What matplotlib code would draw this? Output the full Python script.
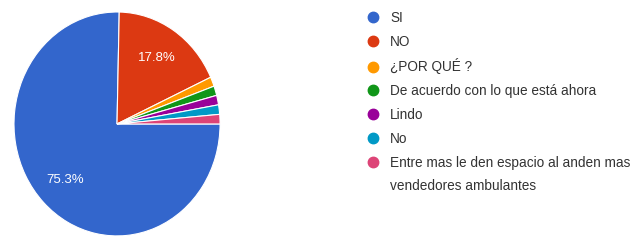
import matplotlib
matplotlib.use("Agg")
import matplotlib.pyplot as plt
from matplotlib.lines import Line2D

plt.rcParams['font.family'] = ['Liberation Sans', 'DejaVu Sans']

# responses to the survey question
labels = ['SI', 'NO', '¿POR QUÉ ?', 'De acuerdo con lo que está ahora', 'Lindo', 'No',
          'Entre mas le den espacio al anden mas\nvendedores ambulantes']
counts = [55, 13, 1, 1, 1, 1, 1]
colors = ['#3366cc', '#dc3912', '#ff9900', '#109618', '#990099', '#0099c6', '#dd4477']

fig = plt.figure(figsize=(6.36, 2.40), dpi=100)
ax = fig.add_axes([0.022, 0.017, 0.324, 0.933])

def pct(p):
    # only the big slices get a label
    return '%.1f%%' % p if p > 5 else ''

wedges, texts, autotexts = ax.pie(counts, colors=colors, startangle=0, counterclock=False,
                                  autopct=pct, pctdistance=0.71,
                                  wedgeprops=dict(edgecolor='white', linewidth=0.8),
                                  textprops=dict(color='white', fontsize=9.5))
ax.set_aspect('auto')
ax.set_xlim(-1, 1)
ax.set_ylim(-1, 1)

# the wrapped label keeps its dot on the first line, so the second line
# becomes its own row without a marker
handles = [Line2D([], [], marker='o', linestyle='', markersize=7.5,
                  markerfacecolor=c, markeredgecolor=c) for c in colors]
leg_labels = labels[:-1] + labels[-1].split('\n')
handles.append(Line2D([], [], linestyle='', marker=None))
leg = fig.legend(handles, leg_labels, loc='upper left', bbox_to_anchor=(0.563, 0.995),
                 frameon=False, fontsize=9.8, labelspacing=0.72, handletextpad=0.85,
                 handlelength=0.8, borderpad=0.2)
for t in leg.get_texts():
    t.set_color('#333333')

fig.savefig('out.png', dpi=100)
